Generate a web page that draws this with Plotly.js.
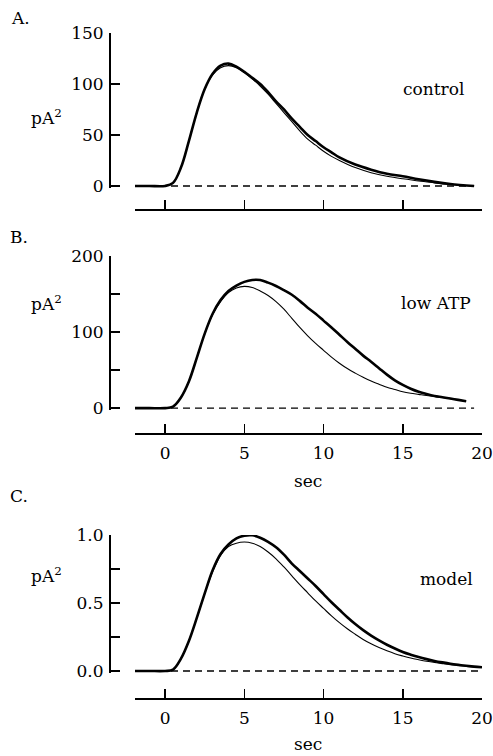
<!DOCTYPE html>
<html>
<head>
<meta charset="utf-8">
<script src="https://cdn.plot.ly/plotly-3.0.1.min.js"></script>
<style>html,body{margin:0;padding:0;background:#fff}#chart{width:493px;height:756px}</style>
</head>
<body>
<div id="chart"></div>
<script>
// ---- Data ----
const timeA = [-1.9,-1,0,0.5,1,1.5,2,2.5,3,3.5,4,4.5,5,5.5,6,6.5,7,7.5,8,8.5,9,9.5,10,10.5,11,12,13,14,15,16,17,18,19.5];
const controlData = [0,0,0,3,18,44,72,95,110,118,120,117,112,106,100,92,83,75,66,58,50,44,38,33,28,21,16,12,9.5,6.5,4,2,0];
const controlFit  = [0,0,0,3,18,44,72,95,109,116,118,116,111,105,98,90,81,72,63,54,46,40,34,29,25,18,13,9.5,7,5,3,1.5,0.3];

const timeB = [-1.9,-1,0,0.5,1,1.5,2,2.5,3,3.5,4,4.5,5,5.5,6,6.5,7,7.5,8,8.5,9,9.5,10,10.5,11,11.5,12,12.5,13,13.5,14,14.5,15,15.5,16,16.5,17,17.5,18,18.5,19];
const lowAtpData = [0,0,0,2,14,35,66,98,124,142,154,161,166,168.5,168.5,165,160.5,155,149,141,132,124,115,106,96.5,87,78,69,61,52.5,44,36.5,30.5,25.5,21.5,18.5,16,14.3,12.5,10.8,9];
const lowAtpFit  = [0,0,0,2,14,35,66,98,123,140,152,158,160,158.5,154,148,140,130,118,106,95,85,76,67,59,52,46,40.5,35.5,31.5,27.5,24.5,21.5,19.5,18,16.5,15.3,14,12.5,10.8,9];

const timeC = [-1.9,-1,0,0.5,1,1.5,2,2.5,3,3.5,4,4.5,5,5.5,6,6.5,7,7.5,8,8.5,9,9.5,10,10.5,11,11.5,12,12.5,13,13.5,14,14.5,15,15.5,16,16.5,17,17.5,18,18.5,19,19.5,20];
const modelLowAtp  = [0,0,0,0.01,0.09,0.22,0.39,0.57,0.74,0.86,0.93,0.975,0.995,0.998,0.98,0.95,0.91,0.855,0.79,0.735,0.68,0.625,0.565,0.505,0.45,0.395,0.345,0.30,0.26,0.225,0.193,0.165,0.14,0.12,0.102,0.087,0.074,0.063,0.053,0.045,0.038,0.032,0.027];
const modelControl = [0,0,0,0.01,0.09,0.22,0.39,0.57,0.73,0.85,0.915,0.94,0.948,0.94,0.915,0.875,0.825,0.765,0.70,0.635,0.575,0.515,0.46,0.405,0.355,0.31,0.27,0.232,0.2,0.172,0.148,0.127,0.11,0.095,0.083,0.072,0.063,0.054,0.046,0.04,0.034,0.03,0.027];

const baselineA = [-1.9, 19.5];
const baselineB = [-1.9, 19.5];
const baselineC = [-1.9, 20];

const xTicks = [0,5,10,15,20];
const yTicksA = [0,50,100,150];
const yTicksB = [0,100,200];
const yMinorB = [50,150];
const yTicksC = [0,0.5,1.0];
const yTextC = ['0.0','0.5','1.0'];
const yMinorC = [0.25,0.75];

// ---- Layout helpers ----
const W = 493, H = 756;
const px = v => v / W;
const py = v => 1 - v / H;
const FONT = {family: 'DejaVu Serif, serif', size: 17, color: '#000'};

function thick(x, y, xa, ya) {
  return {x, y, xaxis: xa, yaxis: ya, type: 'scatter', mode: 'lines',
    line: {color: '#000', width: 2.6, shape: 'spline', smoothing: 1}, hoverinfo: 'skip'};
}
function thin(x, y, xa, ya) {
  return {x, y, xaxis: xa, yaxis: ya, type: 'scatter', mode: 'lines',
    line: {color: '#000', width: 1.1, shape: 'spline', smoothing: 1}, hoverinfo: 'skip'};
}
function base(x, xa, ya) {
  return {x, y: x.map(() => 0), xaxis: xa, yaxis: ya, type: 'scatter', mode: 'lines',
    line: {color: '#000', width: 1.4, dash: '7px,5px'}, hoverinfo: 'skip'};
}

const traces = [
  base(baselineA, 'x', 'y'),
  thin(timeA, controlFit, 'x', 'y'),
  thick(timeA, controlData, 'x', 'y'),
  base(baselineB, 'x2', 'y2'),
  thin(timeB, lowAtpFit, 'x2', 'y2'),
  thick(timeB, lowAtpData, 'x2', 'y2'),
  base(baselineC, 'x3', 'y3'),
  thin(timeC, modelControl, 'x3', 'y3'),
  thick(timeC, modelLowAtp, 'x3', 'y3')
];

function xax(posPx, labels) {
  return {domain: [px(135), px(482)], range: [-1.9, 20], anchor: 'free', position: py(posPx),
    showline: true, linecolor: '#000', linewidth: 1.5, showgrid: false, zeroline: false,
    ticks: 'inside', ticklen: 9, tickwidth: 1.5, tickcolor: '#000', tickvals: xTicks,
    showticklabels: labels, tickfont: FONT, ticklabelstandoff: 4};
}
function yax(domTop, domBot, range, vals, text, minorVals) {
  const o = {domain: [py(domBot), py(domTop)], range, anchor: 'free', position: px(109),
    showline: true, linecolor: '#000', linewidth: 1.5, showgrid: false, zeroline: false,
    ticks: 'inside', ticklen: 9, tickwidth: 1.5, tickcolor: '#000', tickvals: vals,
    tickfont: FONT, ticklabelstandoff: 2};
  if (text) o.ticktext = text;
  if (minorVals) o.minor = {tickvals: minorVals, ticks: 'inside', ticklen: 9, tickwidth: 1.5, tickcolor: '#000', showgrid: false};
  return o;
}

function ann(text, x, y) {
  return {text, x: px(x), y: py(y), xref: 'paper', yref: 'paper',
    showarrow: false, xanchor: 'center', yanchor: 'middle', font: FONT};
}

const layout = {
  width: W, height: H,
  margin: {l: 0, r: 0, t: 0, b: 0},
  paper_bgcolor: '#fff', plot_bgcolor: '#fff',
  showlegend: false,
  xaxis: xax(209, false),
  yaxis: yax(33, 188, [-2, 150], yTicksA),
  xaxis2: xax(433, true),
  yaxis2: yax(256, 410, [-2.5, 200], yTicksB, null, yMinorB),
  xaxis3: xax(698, true),
  yaxis3: yax(535, 673, [-0.015, 1.0], yTicksC, yTextC, yMinorC),
  annotations: [
    ann('A.', 20, 18),
    ann('B.', 19, 237),
    ann('C.', 19, 496),
    ann('pA<sup>2</sup>', 46, 117),
    ann('pA<sup>2</sup>', 46, 303),
    ann('pA<sup>2</sup>', 46, 575),
    ann('control', 433, 89),
    ann('low ATP', 436, 303),
    ann('model', 446, 579),
    ann('sec', 308, 481),
    ann('sec', 308, 744)
  ]
};

Plotly.newPlot('chart', traces, layout, {staticPlot: true, displayModeBar: false});
</script>
</body>
</html>
